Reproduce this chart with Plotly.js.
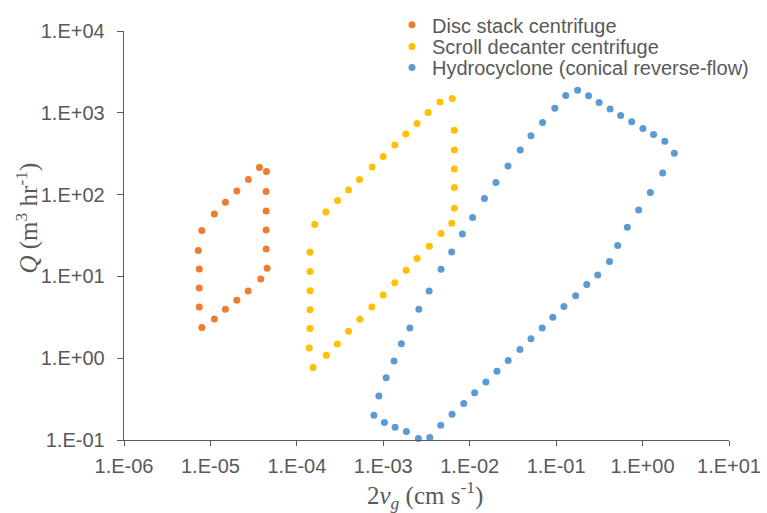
<!DOCTYPE html>
<html>
<head>
<meta charset="utf-8">
<script src="https://cdn.plot.ly/plotly-3.0.1.min.js"></script>
<style>html,body{margin:0;padding:0;background:#fff;}#chart{width:767px;height:513px;}</style>
</head>
<body>
<div id="chart"></div>
<script>
// Disc stack centrifuge
var discX = [3.69e-5, 4.45e-5, 2.75e-5, 2.02e-5, 1.49e-5, 1.11e-5, 7.96e-6, 7.23e-6, 7.43e-6, 7.43e-6, 7.43e-6,
             7.96e-6, 1.11e-5, 1.49e-5, 2.02e-5, 2.73e-5, 3.82e-5, 4.53e-5, 4.41e-5, 4.41e-5, 4.41e-5, 4.41e-5];
var discY = [215, 192, 153, 111, 80.7, 58, 36.4, 20.7, 12.3, 7.21, 4.22,
             2.38, 3.01, 3.96, 5.10, 6.63, 9.29, 12.6, 21.6, 37.0, 63.1, 109];

// Scroll decanter centrifuge
var scrollX = [6.29e-3, 4.54e-3, 3.30e-3, 2.46e-3, 1.82e-3, 1.36e-3, 9.98e-4, 7.45e-4, 5.31e-4, 3.96e-4, 2.96e-4, 2.17e-4, 1.61e-4,
               1.42e-4, 1.42e-4, 1.42e-4, 1.42e-4, 1.42e-4, 1.39e-4, 1.54e-4,
               2.19e-4, 2.94e-4, 3.96e-4, 5.37e-4, 7.38e-4, 9.98e-4, 1.36e-3, 1.84e-3, 2.46e-3, 3.41e-3, 4.66e-3, 6.19e-3,
               6.64e-3, 6.64e-3, 6.64e-3, 6.64e-3, 6.64e-3];
var scrollY = [1500, 1352, 1012, 741, 549, 403, 292, 218, 153, 114, 84.7, 61.4, 43.1,
               19.7, 11.5, 6.70, 3.92, 2.30, 1.33, 0.771,
               1.09, 1.49, 2.13, 2.99, 4.22, 5.92, 8.39, 11.9, 16.5, 23.4, 33.4, 44.7,
               68.2, 122, 206, 352, 614];

// Hydrocyclone (conical reverse-flow)
var hydroX = [0.0966, 0.0697, 0.0511, 0.0384, 0.0277, 0.0201, 0.0148, 0.0108, 8.22e-3, 6.19e-3, 4.66e-3, 3.39e-3,
              2.58e-3, 2.03e-3, 1.62e-3, 1.33e-3, 1.08e-3, 8.9e-4, 7.79e-4,
              1.03e-3, 1.37e-3, 1.85e-3, 2.55e-3, 3.45e-3, 4.62e-3, 6.25e-3, 8.53e-3, 0.0114, 0.0154, 0.0207, 0.0279,
              0.0381, 0.0511, 0.0689, 0.0916, 0.123, 0.168, 0.226, 0.303, 0.414, 0.515, 0.667, 0.902, 1.23, 1.71, 2.33,
              1.81, 1.34, 1.01, 0.748, 0.558, 0.421, 0.314, 0.237, 0.177, 0.129];
var hydroY = [1133, 763, 523, 352, 223, 141, 89.6, 52.5, 33.0, 19.9, 12.2, 6.63,
              3.96, 2.34, 1.50, 0.921, 0.577, 0.344, 0.201,
              0.164, 0.143, 0.127, 0.104, 0.107, 0.152, 0.207, 0.280, 0.378, 0.510, 0.695, 0.940,
              1.28, 1.73, 2.34, 3.16, 4.30, 5.82, 7.94, 10.4, 15.2, 23.8, 39.9, 65.0, 106, 184, 321,
              450, 544, 644, 776, 929, 1110, 1340, 1615, 1880, 1633];

var seriesNames = ['Disc stack centrifuge', 'Scroll decanter centrifuge', 'Hydrocyclone (conical reverse-flow)'];

var xTickVals = [1e-6, 1e-5, 1e-4, 1e-3, 1e-2, 1e-1, 1, 10];
var xTickText = ['1.E-06', '1.E-05', '1.E-04', '1.E-03', '1.E-02', '1.E-01', '1.E+00', '1.E+01'];
var yTickVals = [0.1, 1, 10, 100, 1000, 10000];
var yTickText = ['1.E-01', '1.E+00', '1.E+01', '1.E+02', '1.E+03', '1.E+04'];

var colors = ['#ED7D31', '#FFC000', '#5B9BD5'];
var legendIds = ['legend', 'legend2', 'legend3'];

function tr(x, y, i) {
  return {x: x, y: y, name: seriesNames[i], type: 'scatter', mode: 'markers',
          marker: {color: colors[i], size: 7}, cliponaxis: false, legend: legendIds[i]};
}

var data = [tr(discX, discY, 0), tr(scrollX, scrollY, 1), tr(hydroX, hydroY, 2)];

var txtColor = '#595959';
var axisColor = '#595959';
function leg(yc) {
  return {x: 0.443, y: yc, xanchor: 'left', yanchor: 'middle', bgcolor: 'rgba(0,0,0,0)',
          font: {size: 20, color: txtColor}};
}

var layout = {
  width: 767, height: 513,
  margin: {l: 124, r: 38, t: 31, b: 73, autoexpand: false},
  paper_bgcolor: '#fff', plot_bgcolor: '#fff',
  font: {family: 'Liberation Sans, Arial, sans-serif', color: txtColor, size: 20},
  showlegend: true,
  legend: leg(1.015),
  legend2: leg(0.962),
  legend3: leg(0.911),
  xaxis: {type: 'log', range: [-6, 1], tickvals: xTickVals, ticktext: xTickText,
          showgrid: false, zeroline: false, showline: true, linecolor: axisColor, linewidth: 1.3,
          ticks: 'outside', ticklen: 5, tickcolor: axisColor, ticklabelstandoff: 3,
          tickfont: {size: 20, color: txtColor}},
  yaxis: {type: 'log', range: [-1, 4], tickvals: yTickVals, ticktext: yTickText,
          showgrid: false, zeroline: false, showline: true, linecolor: axisColor, linewidth: 1.3,
          ticks: 'outside', ticklen: 6, tickcolor: axisColor, ticklabelstandoff: 8,
          tickfont: {size: 20, color: txtColor}},
  annotations: [
    {text: '2<i>v</i><sub><i>g</i></sub> (cm s<sup>-1</sup>)', xref: 'paper', yref: 'paper',
     x: 0.497, y: -0.134, xanchor: 'center', yanchor: 'middle', showarrow: false,
     font: {family: 'Liberation Serif, Times New Roman, serif', size: 25, color: txtColor}},
    {text: '<i>Q</i> (m<sup>3</sup> hr<sup>-1</sup>)', xref: 'paper', yref: 'paper',
     x: -0.16, y: 0.542, xanchor: 'center', yanchor: 'middle', showarrow: false, textangle: -90,
     font: {family: 'Liberation Serif, Times New Roman, serif', size: 25, color: txtColor}}
  ]
};

Plotly.newPlot('chart', data, layout, {displayModeBar: false, staticPlot: true});
</script>
</body>
</html>
